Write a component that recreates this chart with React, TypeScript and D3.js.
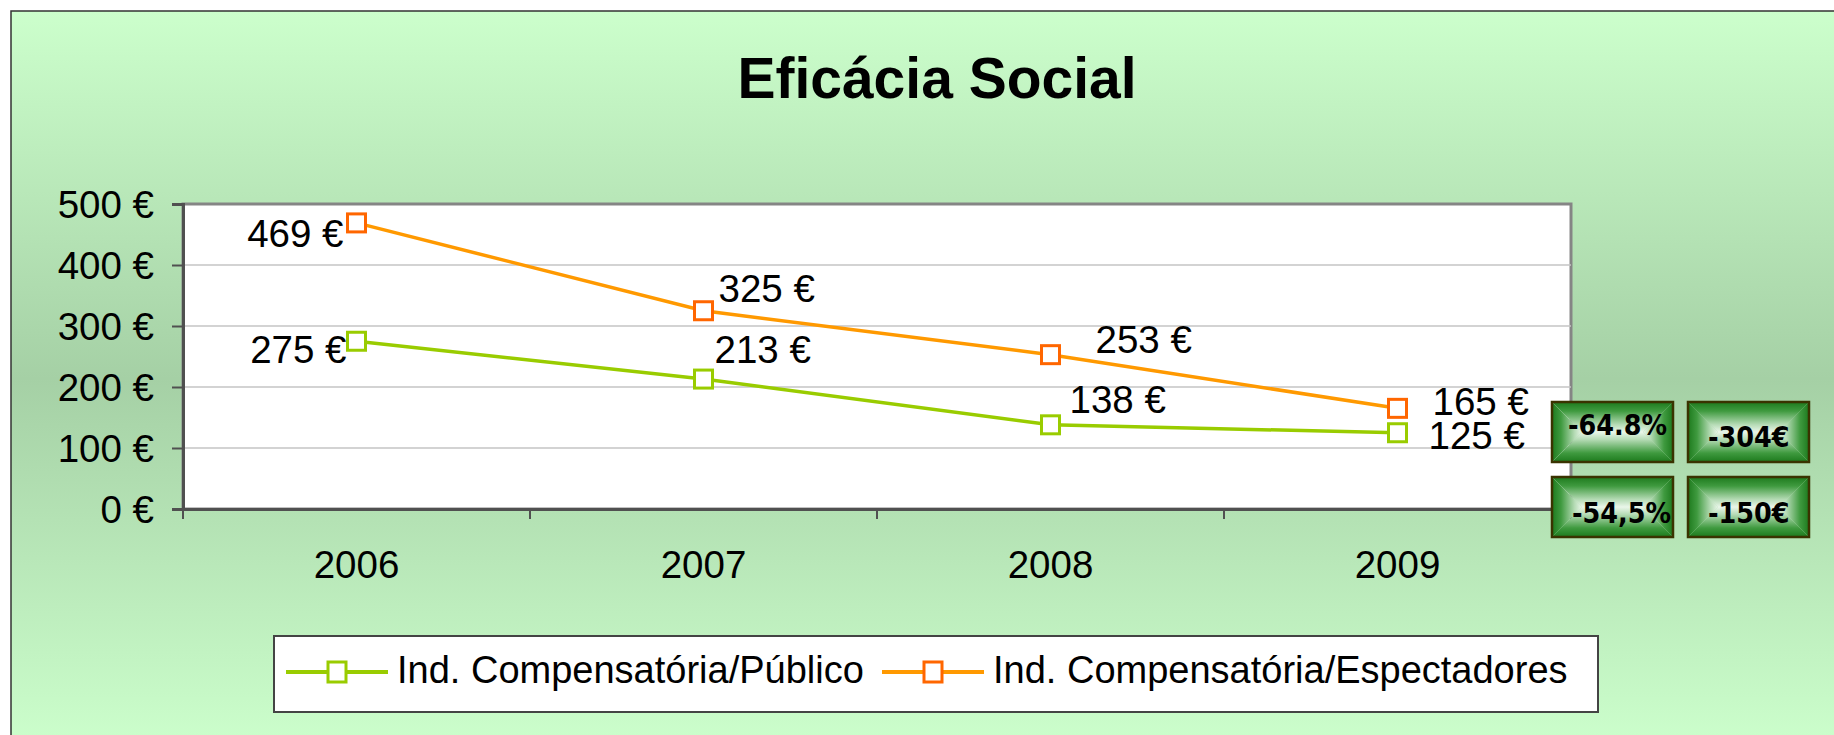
import React, { useRef, useEffect } from 'react';
import * as d3 from 'd3';

// chart values
const years = ['2006', '2007', '2008', '2009'];
const publico = [275, 213, 138, 125];
const espectadores = [469, 325, 253, 165];
const yTicks = [0, 100, 200, 300, 400, 500];
const seriesNames = ['Ind. Compensatória/Público', 'Ind. Compensatória/Espectadores'];
const boxTexts = ['-64.8%', '-304€', '-54,5%', '-150€'];

const W = 1834;
const H = 735;

const App = () => {
    const ref = useRef<SVGSVGElement>(null);

    useEffect(() => {
        const svg = d3.select(ref.current);
        svg.selectAll('*').remove();

        const plot = { left: 183, right: 1571, top: 204, bottom: 509 };
        const font = '"Liberation Sans", Arial, sans-serif';

        const x = d3.scaleBand().domain(years).range([plot.left, plot.right]).padding(0);
        const y = d3.scaleLinear().domain([0, 500]).range([plot.bottom, plot.top]);
        const cx = (d: string) => (x(d) as number) + x.bandwidth() / 2;

        // --- gradients ---
        const defs = svg.append('defs');
        const bg = defs.append('linearGradient').attr('id', 'bg-grad')
            .attr('x1', 0).attr('y1', 0).attr('x2', 0).attr('y2', 1);
        bg.append('stop').attr('offset', '0%').attr('stop-color', '#ccffcc');
        bg.append('stop').attr('offset', '50%').attr('stop-color', '#a5d0a5');
        bg.append('stop').attr('offset', '100%').attr('stop-color', '#ccffcc');

        const boxStops = (g: any) => {
            g.append('stop').attr('offset', '0%').attr('stop-color', '#1d7a1d');
            g.append('stop').attr('offset', '30%').attr('stop-color', '#3f9a3f');
            g.append('stop').attr('offset', '75%').attr('stop-color', '#b5dbb5');
            g.append('stop').attr('offset', '100%').attr('stop-color', '#eaf6ea');
        };
        boxStops(defs.append('linearGradient').attr('id', 'bx-top').attr('x1', 0).attr('y1', 0).attr('x2', 0).attr('y2', 1));
        boxStops(defs.append('linearGradient').attr('id', 'bx-bot').attr('x1', 0).attr('y1', 1).attr('x2', 0).attr('y2', 0));
        boxStops(defs.append('linearGradient').attr('id', 'bx-left').attr('x1', 0).attr('y1', 0).attr('x2', 1).attr('y2', 0));
        boxStops(defs.append('linearGradient').attr('id', 'bx-right').attr('x1', 1).attr('y1', 0).attr('x2', 0).attr('y2', 0));

        // --- background frame ---
        svg.append('rect').attr('x', 0).attr('y', 0).attr('width', W).attr('height', H).attr('fill', '#ffffff');
        svg.append('rect').attr('x', 11).attr('y', 11).attr('width', W).attr('height', H)
            .attr('fill', 'url(#bg-grad)').attr('stroke', '#333333').attr('stroke-width', 1.5);

        // --- title ---
        svg.append('text').attr('x', 937).attr('y', 98).attr('text-anchor', 'middle')
            .attr('font-family', font).attr('font-weight', 'bold').attr('font-size', 57)
            .text('Eficácia Social');

        // --- plot area ---
        svg.append('rect').attr('x', plot.left).attr('y', plot.top)
            .attr('width', plot.right - plot.left).attr('height', plot.bottom - plot.top)
            .attr('fill', '#ffffff').attr('stroke', '#858585').attr('stroke-width', 3);

        // grid lines
        svg.append('g')
            .selectAll('line')
            .data(yTicks.filter(t => t > 0 && t < 500))
            .enter().append('line')
            .attr('x1', plot.left).attr('x2', plot.right)
            .attr('y1', d => y(d)).attr('y2', d => y(d))
            .attr('stroke', '#c4c4c4').attr('stroke-width', 1.5);

        // y axis
        const yAxis = svg.append('g').attr('transform', `translate(${plot.left},0)`)
            .call(d3.axisLeft(y).tickValues(yTicks).tickSize(11).tickPadding(18).tickFormat(d => `${d} €`));
        yAxis.select('.domain').attr('stroke', '#505050').attr('stroke-width', 3);
        yAxis.selectAll('.tick line').attr('stroke', '#505050').attr('stroke-width', 2);
        yAxis.selectAll('.tick text').attr('font-family', font).attr('font-size', 38.5)
            .attr('fill', '#000').attr('dy', '0.36em');

        // x axis
        const xAxis = svg.append('g').attr('transform', `translate(0,${plot.bottom})`)
            .call(d3.axisBottom(x).tickSize(0).tickPadding(0));
        xAxis.select('.domain').attr('stroke', '#505050').attr('stroke-width', 3);
        xAxis.selectAll('.tick text').attr('font-family', font).attr('font-size', 38.5)
            .attr('fill', '#000').attr('dy', 0).attr('y', 69);
        xAxis.append('g').selectAll('line')
            .data([...years.map(d => x(d) as number), plot.right])
            .enter().append('line')
            .attr('x1', d => d).attr('x2', d => d).attr('y1', 0).attr('y2', 10)
            .attr('stroke', '#505050').attr('stroke-width', 2);

        // --- series ---
        const series = [
            { values: publico, line: '#99cc00', marker: '#99cc00',
              offs: [[-10, 22, 'end'], [11, -16, 'start'], [19, -12, 'start'], [31, 16, 'start']] },
            { values: espectadores, line: '#ff9900', marker: '#ff6600',
              offs: [[-13, 24, 'end'], [15, -9, 'start'], [45, -2, 'start'], [35, 7, 'start']] },
        ];

        const line = d3.line<number>()
            .x((d, i) => cx(years[i]))
            .y(d => y(d));

        series.forEach(s => {
            svg.append('path').datum(s.values)
                .attr('fill', 'none').attr('stroke', s.line).attr('stroke-width', 3.5)
                .attr('d', line);

            svg.append('g').selectAll('rect')
                .data(s.values).enter().append('rect')
                .attr('x', (d, i) => cx(years[i]) - 9).attr('y', d => y(d) - 9)
                .attr('width', 18).attr('height', 18)
                .attr('fill', '#ffffff').attr('stroke', s.marker).attr('stroke-width', 3);

            svg.append('g').selectAll('text')
                .data(s.values).enter().append('text')
                .attr('x', (d, i) => cx(years[i]) + (s.offs[i][0] as number))
                .attr('y', (d, i) => y(d) + (s.offs[i][1] as number))
                .attr('text-anchor', (d, i) => s.offs[i][2] as string)
                .attr('font-family', font).attr('font-size', 38.5)
                .text(d => `${d} €`);
        });

        // --- legend ---
        const lg = svg.append('g');
        lg.append('rect').attr('x', 274).attr('y', 636).attr('width', 1324).attr('height', 76)
            .attr('fill', '#ffffff').attr('stroke', '#444444').attr('stroke-width', 2);
        const legendItems = [
            { name: seriesNames[0], line: '#99cc00', marker: '#99cc00', x0: 286 },
            { name: seriesNames[1], line: '#ff9900', marker: '#ff6600', x0: 882 },
        ];
        legendItems.forEach(it => {
            lg.append('line').attr('x1', it.x0).attr('x2', it.x0 + 102).attr('y1', 672).attr('y2', 672)
                .attr('stroke', it.line).attr('stroke-width', 4);
            lg.append('rect').attr('x', it.x0 + 42).attr('y', 662).attr('width', 18).attr('height', 20)
                .attr('fill', '#ffffff').attr('stroke', it.marker).attr('stroke-width', 3);
            lg.append('text').attr('x', it.x0 + 111).attr('y', 683)
                .attr('font-family', font).attr('font-size', 38).text(it.name);
        });

        // --- change boxes ---
        const boxes = [
            { x0: 1552, y0: 402, tx: 1568, ty: 435 },
            { x0: 1688, y0: 402, tx: 1708, ty: 447 },
            { x0: 1552, y0: 477, tx: 1572, ty: 523 },
            { x0: 1688, y0: 477, tx: 1708, ty: 523 },
        ];
        const bw = 121, bh = 60, inset = bh / 2;
        boxes.forEach((b, i) => {
            const g = svg.append('g');
            const x0 = b.x0, y0 = b.y0, x1 = b.x0 + bw, y1 = b.y0 + bh, my = y0 + bh / 2;
            const pts = (p: number[][]) => p.map(q => q.join(',')).join(' ');
            g.append('polygon').attr('points', pts([[x0, y0], [x1, y0], [x1 - inset, my], [x0 + inset, my]])).attr('fill', 'url(#bx-top)');
            g.append('polygon').attr('points', pts([[x0, y1], [x1, y1], [x1 - inset, my], [x0 + inset, my]])).attr('fill', 'url(#bx-bot)');
            g.append('polygon').attr('points', pts([[x0, y0], [x0 + inset, my], [x0, y1]])).attr('fill', 'url(#bx-left)');
            g.append('polygon').attr('points', pts([[x1, y0], [x1 - inset, my], [x1, y1]])).attr('fill', 'url(#bx-right)');
            g.append('rect').attr('x', x0).attr('y', y0).attr('width', bw).attr('height', bh)
                .attr('fill', 'none').attr('stroke', '#3a3300').attr('stroke-width', 2.5);
            g.append('text')
                .attr('transform', `translate(${b.tx},${b.ty}) scale(0.88,1)`)
                .attr('font-family', '"DejaVu Sans", Verdana, sans-serif').attr('font-weight', 'bold')
                .attr('font-size', 29).attr('fill', '#000')
                .text(boxTexts[i]);
        });
    }, []);

    return (
        <svg ref={ref} width={W} height={H}
            style={{ position: 'absolute', left: 0, top: 0, display: 'block' }} />
    );
};

export default App;
